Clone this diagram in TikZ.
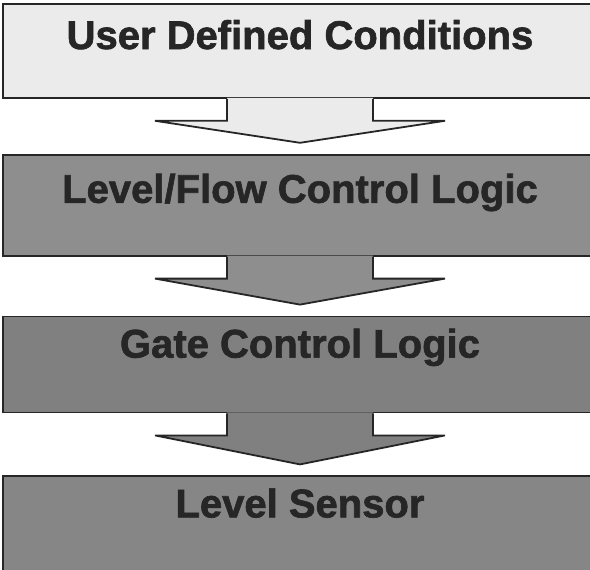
\documentclass[tikz,border=0pt]{standalone}
\usepackage{fontspec}
\setmainfont{Liberation Sans}
\newfontfamily\heavyfont{Liberation Sans}[UprightFont=*-Bold, FakeBold=1.6]
\usetikzlibrary{positioning}

\definecolor{paleGray}{HTML}{EBEBEB}
\definecolor{midGray}{HTML}{8E8E8E}
\definecolor{darkGray}{HTML}{808080}
\definecolor{sensorGray}{HTML}{868686}

\begin{document}
\begin{tikzpicture}[x=1pt, y=1pt,
            stage/.style={draw=black!85, line width=1.8pt, rectangle, inner sep=0pt,
            minimum width=594pt},
            caption/.style={anchor=base, text=black!85,
            font=\fontsize{40}{48}\heavyfont\bfseries},
            outline/.style={draw=black!85, line width=1.8pt, line join=miter}]
        \clip (0,0) rectangle (590,-570);
        \node[stage, fill=paleGray, minimum height=94pt, anchor=north] (user) at (300,-3) {};
        \node[stage, fill=midGray, minimum height=101pt] (levelflow) [below=55pt of user] {};
        \node[stage, fill=darkGray, minimum height=96pt] (gate) [below=59pt of levelflow] {};
        \node[stage, fill=sensorGray, minimum height=120pt] (sensor) [below=62pt of gate] {};

        \node[caption] (user-txt) at ([yshift=-46pt]user.north) {User Defined Conditions};
        \node[caption] (levelflow-txt) at ([yshift=-49pt]levelflow.north) {Level/Flow Control Logic};
        \node[caption] (gate-txt) at ([yshift=-42pt]gate.north) {Gate Control Logic};
        \node[caption] (sensor-txt) at ([yshift=-42pt]sensor.north) {Level Sensor};

        % block arrows between the stages
        \foreach \from/\to/\shade in {user/levelflow/paleGray, levelflow/gate/midGray, gate/sensor/darkGray} {
            \fill[\shade] ([xshift=-73pt, yshift=1pt]\from.south) -- ([xshift=-73pt, yshift=-22pt]\from.south)
                -- ([xshift=-145pt, yshift=-22pt]\from.south) -- ([yshift=11pt]\to.north)
                -- ([xshift=145pt, yshift=-22pt]\from.south) -- ([xshift=73pt, yshift=-22pt]\from.south)
                -- ([xshift=73pt, yshift=1pt]\from.south) -- cycle;
            \draw[outline] ([xshift=-73pt]\from.south) -- ([xshift=-73pt, yshift=-22pt]\from.south)
                -- ([xshift=-145pt, yshift=-22pt]\from.south) -- ([yshift=11pt]\to.north)
                -- ([xshift=145pt, yshift=-22pt]\from.south) -- ([xshift=73pt, yshift=-22pt]\from.south)
                -- ([xshift=73pt]\from.south);
        }
    \end{tikzpicture}
\end{document}
